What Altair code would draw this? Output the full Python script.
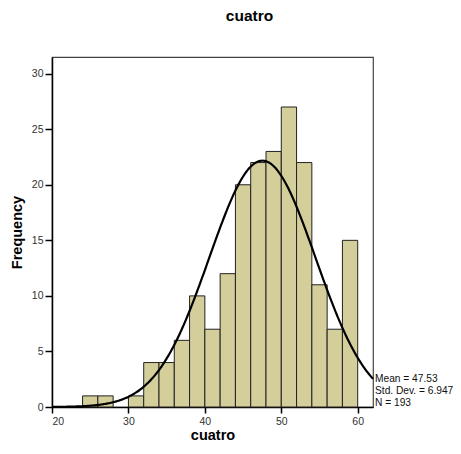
import altair as alt
import pandas as pd
import numpy as np

bin_start = [24, 26, 28, 30, 32, 34, 36, 38, 40, 42, 44, 46, 48, 50, 52, 54, 56, 58]
counts = [1, 1, 0, 1, 4, 4, 6, 10, 7, 12, 20, 22, 23, 27, 22, 11, 7, 15]
bin_width = 2
mean = 47.53
sd = 6.947
n = 193
stats_lines = ["Mean = 47.53", "Std. Dev. = 6.947", "N = 193"]
stats_y = [2.48, 1.42, 0.38]

bars = pd.DataFrame({
    "start": bin_start,
    "end": [b + bin_width for b in bin_start],
    "count": counts,
})
bars = bars[bars["count"] > 0]

xs = np.linspace(20, 62, 300)
ys = n * bin_width * np.exp(-0.5 * ((xs - mean) / sd) ** 2) / (sd * np.sqrt(2 * np.pi))
curve = pd.DataFrame({"x": xs, "y": ys})

font = "Liberation Sans"
xscale = alt.Scale(domain=[20, 62], nice=False, zero=False)
yscale = alt.Scale(domain=[0, 31.5], nice=False)

bar_layer = alt.Chart(bars).mark_rect(
    color="#D3CE9A", stroke="#222222", strokeWidth=1
).encode(
    x=alt.X("start:Q", scale=xscale, title="cuatro",
            axis=alt.Axis(values=[20, 30, 40, 50, 60], grid=False, tickSize=6)),
    x2="end:Q",
    y=alt.Y("count:Q", scale=yscale, title="Frequency",
            axis=alt.Axis(values=[0, 5, 10, 15, 20, 25, 30], grid=False, tickSize=7)),
    y2=alt.datum(0),
)

line_layer = alt.Chart(curve).mark_line(color="black", strokeWidth=2.2).encode(
    x=alt.X("x:Q", scale=xscale),
    y=alt.Y("y:Q", scale=yscale),
)

stats = pd.DataFrame({"label": stats_lines, "y": stats_y, "x": [62, 62, 62]})
text_layer = alt.Chart(stats).mark_text(
    align="left", baseline="middle", fontSize=10.2, font=font, color="#111111",
    dx=2
).encode(
    x=alt.X("x:Q", scale=xscale),
    y=alt.Y("y:Q", scale=yscale),
    text="label:N",
)

chart = alt.layer(bar_layer, line_layer, text_layer).properties(
    width=321,
    height=350,
    autosize=alt.AutoSizeParams(type="none"),
    padding={"left": 44, "top": 49, "right": 80, "bottom": 36},
    title=alt.TitleParams("cuatro", font=font, fontSize=15.5, fontWeight="bold",
                          anchor="middle", dx=37, offset=33),
).configure_view(
    stroke="#444444", strokeWidth=1.2
).configure_axis(
    domainColor="black", domainWidth=1.5, tickColor="black", tickWidth=1.5,
    labelFont=font, labelFontSize=10.5, labelColor="#333333",
    titleFont=font, titleFontSize=14.5, titleFontWeight="bold", titleColor="black",
).configure_axisX(
    labelPadding=3, titlePadding=2
).configure_axisY(
    labelPadding=2, titlePadding=7
)

chart.save("out.html", embed_options={"renderer": "svg", "actions": False})
